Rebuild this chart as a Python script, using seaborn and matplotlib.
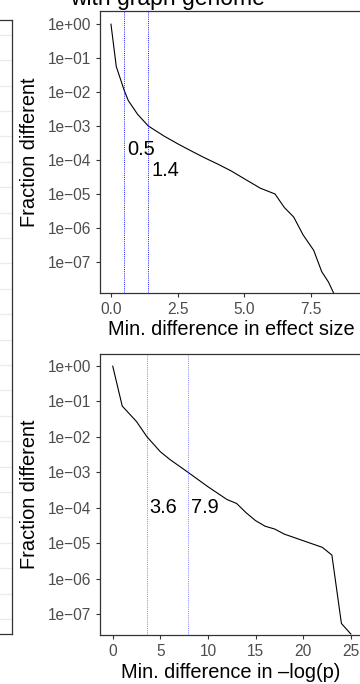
import pandas as pd
import seaborn as sns
import matplotlib.pyplot as plt

# effect size panel (top)
effect_x = [0, 0.2, 0.5, 0.65, 1.0, 1.4, 2.0, 2.5, 3.0, 3.5, 4.0, 4.5, 5.0,
            5.6, 6.15, 6.5, 6.85, 7.2, 7.6, 7.9, 8.15, 8.4]
effect_frac = [1.0, 5.6e-2, 1.1e-2, 5.6e-3, 2.2e-3, 1.0e-3, 5.0e-4, 3.0e-4,
               1.86e-4, 1.17e-4, 7.6e-5, 4.8e-5, 2.8e-5, 1.48e-5, 1.0e-5,
               4.0e-6, 2.1e-6, 6.3e-7, 2.2e-7, 5.2e-8, 2.6e-8, 1.0e-8]
effect_cuts = [0.5, 1.4]
effect_cut_labels = ["0.5", "1.4"]
effect_label_y = [2.0e-4, 5.0e-5]
effect_xticks = [0.0, 2.5, 5.0, 7.5]
effect_xticklabels = ["0.0", "2.5", "5.0", "7.5"]

# -log(p) panel (bottom)
logp_x = [0, 1, 2.5, 3.6, 5, 6, 7.9, 10, 12, 13, 14, 15, 16, 17, 18, 20,
          22, 23, 24, 25]
logp_frac = [1.0, 7.4e-2, 2.7e-2, 1.0e-2, 3.8e-3, 2.3e-3, 1.0e-3, 3.9e-4,
             1.7e-4, 1.32e-4, 7.2e-5, 4.3e-5, 3.0e-5, 2.5e-5, 1.8e-5,
             1.17e-5, 7.6e-6, 4.6e-6, 5.4e-8, 2.7e-8]
logp_cuts = [3.6, 7.9]
logp_cut_labels = ["3.6", "7.9"]
logp_label_y = [1.0e-4, 1.0e-4]
logp_xticks = [0, 5, 10, 15, 20, 25]
logp_xticklabels = ["0", "5", "10", "15", "20", "25"]

yticks = [1e0, 1e-1, 1e-2, 1e-3, 1e-4, 1e-5, 1e-6, 1e-7]
yticklabels = ["1e+00", "1e\u221201", "1e\u221202", "1e\u221203",
               "1e\u221204", "1e\u221205", "1e\u221206", "1e\u221207"]

# neighbouring panel that is cut off on the left (24 categories)
left_rows = list(range(1, 25))

sns.set_theme(style="white")
plt.rcParams['font.family'] = ['Liberation Sans', 'DejaVu Sans']

W, H = 360, 684
fig = plt.figure(figsize=(W / 100, H / 100), dpi=100)


def px_axes(left, top, right, bottom):
    return fig.add_axes([left / W, 1 - bottom / H, (right - left) / W,
                         (bottom - top) / H])


def style_panel(ax):
    for sp in ax.spines.values():
        sp.set_color("#333333")
        sp.set_linewidth(0.9)
    ax.tick_params(axis="both", which="major", length=3.1, width=0.8,
                   color="#333333", pad=3.3, labelsize=11.2,
                   labelcolor="#4D4D4D", bottom=True, left=True)


# left cut panel
axl = px_axes(-200, 19.5, 11.5, 634.3)
axl.set_ylim(24.6, 0.4)
axl.set_yticks(left_rows)
axl.set_yticklabels([])
axl.set_xticks([])
axl.tick_params(left=False)
axl.grid(axis="y", color="#EBEBEB", linewidth=0.9)
for sp in axl.spines.values():
    sp.set_color("#333333")
    sp.set_linewidth(0.9)

panels = [
    (px_axes(100, 11, 362, 293), effect_x, effect_frac, effect_cuts,
     effect_cut_labels, effect_label_y, effect_xticks, effect_xticklabels,
     (-0.41, 9.41), (10 ** -7.912, 10 ** 0.382), 0.9,
     "Min. difference in effect size", -0.0957),
    (px_axes(100, 354, 362, 635), logp_x, logp_frac, logp_cuts,
     logp_cut_labels, logp_label_y, logp_xticks, logp_xticklabels,
     (-1.333, 26.16), (10 ** -7.593, 10 ** 0.339), 0.5,
     "Min. difference in \u2013log(p)", -0.0996),
]

for (ax, xs, ys, cuts, cut_labels, lab_y, xt, xtl, xlim, ylim, valpha,
     xlabel, xlab_y) in panels:
    df = pd.DataFrame({"x": xs, "frac": ys})
    sns.lineplot(data=df, x="x", y="frac", ax=ax, color="black",
                 linewidth=0.8, estimator=None, sort=False)
    ax.set_yscale("log")
    for c, lab, ly in zip(cuts, cut_labels, lab_y):
        ax.axvline(c, color="blue", alpha=valpha, linewidth=0.7,
                   linestyle=(0, (1, 1.2)))
        ax.annotate(lab, xy=(c, ly), xytext=(2, 0), textcoords="offset points",
                    ha="left", va="center", fontsize=14.4, color="black")
    ax.set_xlim(*xlim)
    ax.set_ylim(*ylim)
    ax.set_xticks(xt)
    ax.set_xticklabels(xtl)
    ax.set_yticks(yticks)
    ax.set_yticklabels(yticklabels)
    ax.minorticks_off()
    style_panel(ax)
    ax.set_xlabel(xlabel, fontsize=14.4, color="black")
    ax.set_ylabel("Fraction different", fontsize=14.4, color="black")
    ax.xaxis.set_label_coords(0.5, xlab_y)
    ax.yaxis.set_label_coords(-0.233, 0.5)

fig.text(167.5 / W, 1 - 4.5 / H, "with graph genome", ha="center",
         va="baseline", fontsize=16.5, color="black")

fig.savefig("out.png", dpi=100)
